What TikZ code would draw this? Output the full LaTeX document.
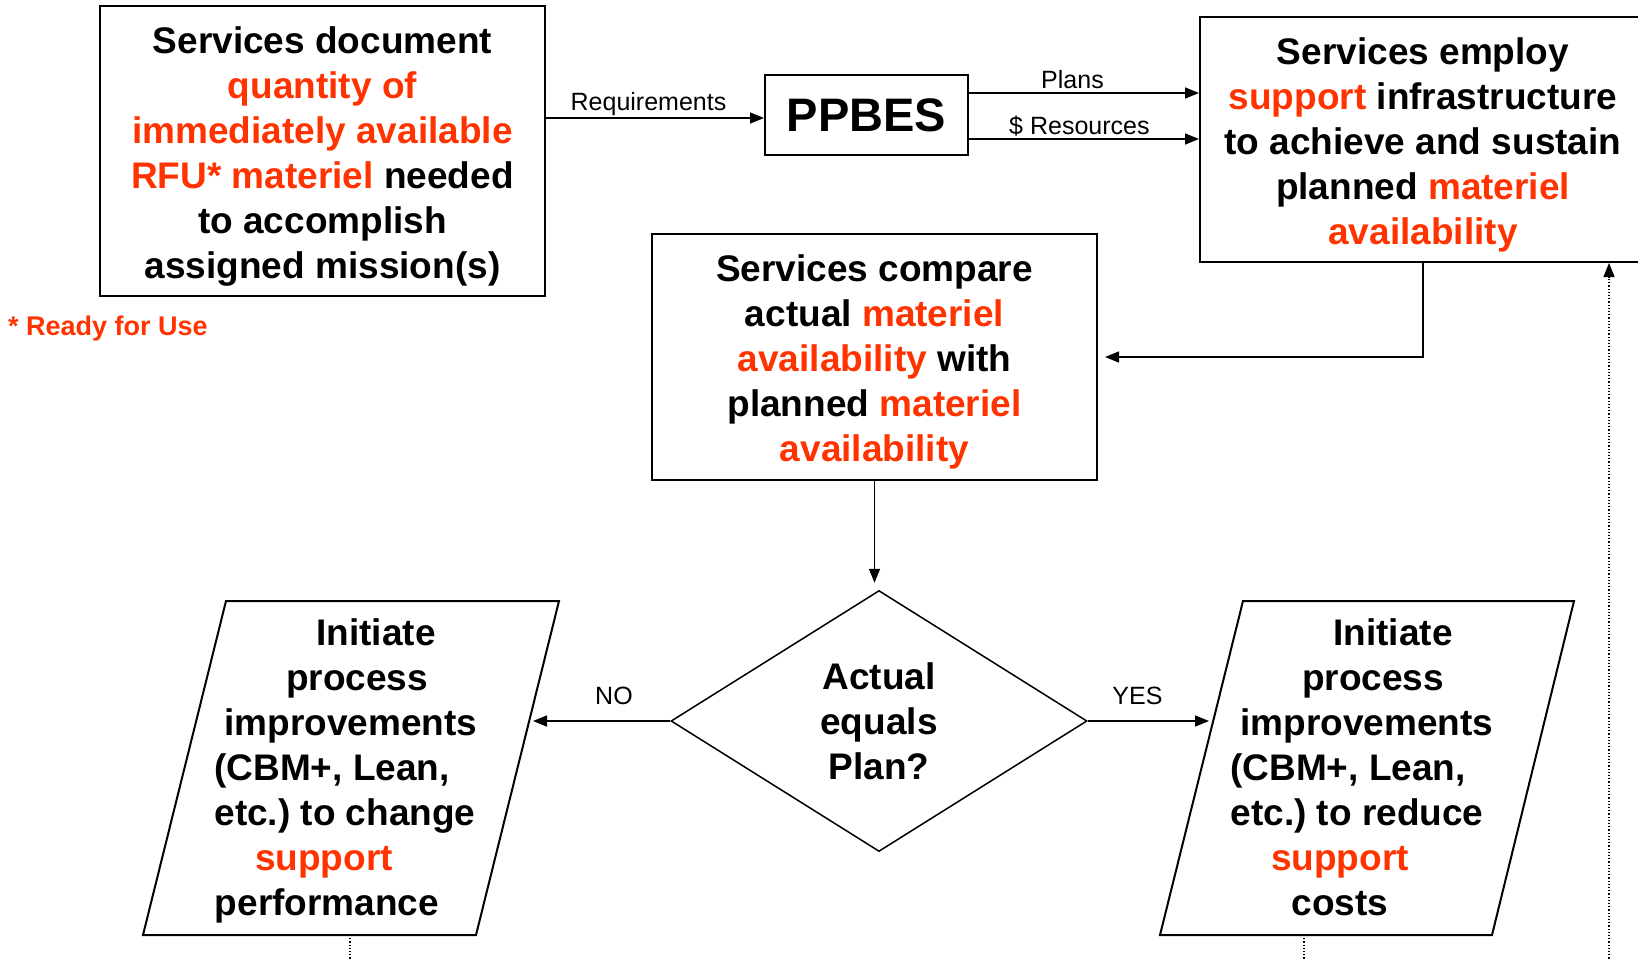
\documentclass[tikz,border=0pt]{standalone}
\usepackage{fontspec}
\setmainfont{Liberation Sans}
\usetikzlibrary{shapes.geometric}
\usetikzlibrary{arrows.meta}
\definecolor{hot}{RGB}{255,51,0}
\newcommand{\hot}[1]{\textcolor{hot}{#1}}
\newcommand{\nudge}[2]{\hbox{\kern#1#2\kern-#1}}
\newcommand{\topgap}{\rule{0pt}{37pt}}

\begin{document}
\begin{tikzpicture}[x=1pt, y=-1pt,
  box/.style={draw, line width=2pt, align=center, inner sep=0pt, font=\fontsize{37}{45}\selectfont\bfseries},
  lbl/.style={font=\fontsize{25}{30}\selectfont},
  arr/.style={line width=1.5pt, -{Triangle[length=14pt,width=11pt]}},
  dots/.style={line width=1.2pt, dotted}]
\clip (0,0) rectangle (1638,960);

\node[box, minimum width=445pt, minimum height=290pt] (need) at (322.5,151)
  {\topgap Services document\\ \hot{quantity of}\\ \hot{immediately available}\\ \hot{RFU* materiel} needed\\ to accomplish\\ assigned mission(s)};
\node[anchor=west, inner sep=0pt, text=hot, font=\fontsize{27}{30}\selectfont\bfseries] (rfu) at (8,329) {* Ready for Use};

\node[box, font=\fontsize{47}{50}\selectfont\bfseries, minimum width=203pt, minimum height=80pt] (ppbes) at (866.5,115) {PPBES};

\node[box, minimum width=446pt, minimum height=245pt] (empl) at (1423,139.5)
  {\topgap Services employ\\ \hot{support} infrastructure\\ to achieve and sustain\\ planned \hot{materiel}\\ \hot{availability}};

\node[box, minimum width=445pt, minimum height=246pt] (cmp) at (874.5,357)
  {\topgap Services compare\\ actual \hot{materiel}\\ \hot{availability} with\\ planned \hot{materiel}\\ \hot{availability}};

\node[box, diamond, line width=1.5pt, minimum width=416pt, minimum height=261pt] (dec) at (879,721)
  {Actual\\ equals\\ Plan?};

\draw[line width=2pt] (226,601) -- (559,601) -- (476,935) -- (143,935) -- cycle;
\node[box, draw=none] (change) at (345,770.5)
  {\nudge{31pt}{Initiate}\\ \nudge{12pt}{process}\\ \nudge{6pt}{improvements}\\ \nudge{-13pt}{(CBM+, Lean,}\\
   \nudge{0pt}{etc.)\ to change}\\ \nudge{-21pt}{\hot{support}}\\ \nudge{-18pt}{performance}};

\draw[line width=2pt] (1243,601) -- (1574,601) -- (1492,935) -- (1160,935) -- cycle;
\node[box, draw=none] (reduce) at (1359,767.5)
  {\nudge{34pt}{Initiate}\\ \nudge{14pt}{process}\\ \nudge{8pt}{improvements}\\ \nudge{-11pt}{(CBM+, Lean,}\\
   \nudge{-2pt}{etc.)\ to reduce}\\ \nudge{-19pt}{\hot{support}}\\ \nudge{-19pt}{costs}};

\coordinate (reqA) at ([yshift=-3pt]need.east |- ppbes.west);
\coordinate (plansA) at ([yshift=22pt]ppbes.east);
\coordinate (resA) at ([yshift=-24pt]ppbes.east);
\coordinate (noin) at (533,721);
\coordinate (yesin) at (1209,721);
\coordinate (changebot) at (350,935);
\coordinate (changeout) at (350,965);
\coordinate (reducebot) at (1304,935);
\coordinate (reduceout) at (1304,965);
\coordinate (loop) at (1609,965);

\draw[arr] (reqA) -- node[lbl, above, inner sep=2pt, pos=0.47] {Requirements} (reqA -| ppbes.west);
\draw[arr] (plansA) -- node[lbl, above, inner sep=4pt, pos=0.45] {Plans} (plansA -| empl.west);
\draw[arr] (resA) -- node[lbl, above, inner sep=2pt, pos=0.48] {\$ Resources} (resA -| empl.west);
\draw[arr, shorten >=7pt] (empl.south) |- (cmp.east);
\draw[arr, shorten >=7pt] (cmp.south) -- (cmp.south |- dec.north);
\draw[arr] (dec.west) -- node[lbl, above=12pt, pos=0.41] {NO} (noin);
\draw[arr] (dec.east) -- node[lbl, above=12pt, pos=0.41] {YES} (yesin);
\draw[dots] (changebot) -- (changeout);
\draw[dots] (reducebot) -- (reduceout);
\draw[dots, -{Triangle[length=14pt,width=11pt]}] (loop) -- (loop |- empl.south);
\end{tikzpicture}
\end{document}
